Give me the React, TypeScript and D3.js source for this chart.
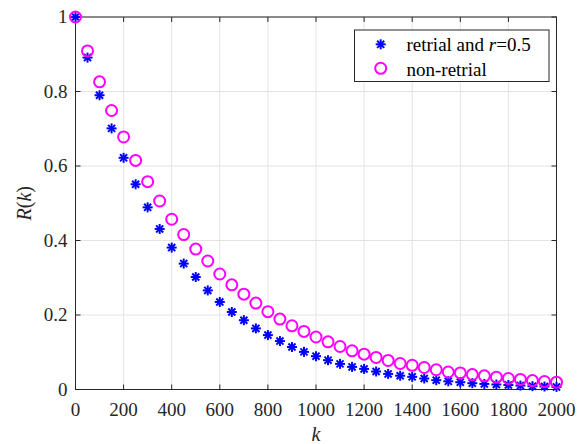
import React from "react";
import * as d3 from "d3";

const kValues: number[] = d3.range(0, 2001, 50);

const retrial: number[] = [
  1.0, 0.891, 0.79, 0.701, 0.622, 0.551, 0.489, 0.431, 0.381, 0.338,
  0.302, 0.266, 0.235, 0.208, 0.186, 0.164, 0.146, 0.13, 0.114, 0.101,
  0.0894, 0.0787, 0.0688, 0.0607, 0.0553, 0.0483, 0.0419, 0.037, 0.034, 0.0295,
  0.025, 0.022, 0.0196, 0.017, 0.015, 0.0135, 0.012, 0.0105, 0.009, 0.008, 0.007,
];

const nonRetrial: number[] = [
  1.0, 0.909, 0.826, 0.749, 0.678, 0.615, 0.558, 0.506, 0.457, 0.416,
  0.377, 0.345, 0.31, 0.281, 0.256, 0.232, 0.209, 0.189, 0.171, 0.156,
  0.141, 0.128, 0.1155, 0.1037, 0.0948, 0.086, 0.078, 0.0698, 0.065, 0.059,
  0.053, 0.047, 0.0446, 0.04, 0.0366, 0.033, 0.0295, 0.027, 0.024, 0.0215, 0.0196,
];

const xTicks: number[] = d3.range(0, 2001, 200);
const yTicks: number[] = [0, 0.2, 0.4, 0.6, 0.8, 1];
const legendLabels: string[] = ["retrial and ", "non-retrial"];

const W = 582;
const H = 444;
const L = 75.5;
const R = 556.5;
const T = 17;
const B = 389.5;
const FONT = '"Times New Roman", Times, "Liberation Serif", "DejaVu Serif", "Noto Serif", serif';
const AX = "#262626";

function Star({ cx, cy, s }: { cx: number; cy: number; s: number }) {
  const d = s * 0.7071;
  return (
    <g stroke="#0000ff" strokeWidth={2} strokeLinecap="butt">
      <line x1={cx - s} y1={cy} x2={cx + s} y2={cy} />
      <line x1={cx} y1={cy - s} x2={cx} y2={cy + s} />
      <line x1={cx - d} y1={cy - d} x2={cx + d} y2={cy + d} />
      <line x1={cx - d} y1={cy + d} x2={cx + d} y2={cy - d} />
    </g>
  );
}

export default function App() {
  const x = d3.scaleLinear().domain([0, 2000]).range([L, R]);
  const y = d3.scaleLinear().domain([0, 1]).range([B, T]);
  const tick = 5;
  const fs = { fontFamily: FONT };
  return (
    <svg width={W} height={H} style={{ position: "absolute", left: 0, top: 0, background: "#fff" }}>
      <rect x={0} y={0} width={W} height={H} fill="#fff" />
      <g stroke="#e3e3e3" strokeWidth={1}>
        {xTicks.map((t) => (
          <line key={"gx" + t} x1={x(t)} x2={x(t)} y1={T} y2={B} />
        ))}
        {yTicks.map((t) => (
          <line key={"gy" + t} x1={L} x2={R} y1={y(t)} y2={y(t)} />
        ))}
      </g>
      <g stroke={AX} strokeWidth={1}>
        {xTicks.map((t) => (
          <g key={"tx" + t}>
            <line x1={x(t)} x2={x(t)} y1={B} y2={B - tick} />
            <line x1={x(t)} x2={x(t)} y1={T} y2={T + tick} />
          </g>
        ))}
        {yTicks.map((t) => (
          <g key={"ty" + t}>
            <line x1={L} x2={L + tick} y1={y(t)} y2={y(t)} />
            <line x1={R} x2={R - tick} y1={y(t)} y2={y(t)} />
          </g>
        ))}
      </g>
      <rect x={L} y={T} width={R - L} height={B - T} fill="none" stroke={AX} strokeWidth={1} />
      <g style={fs} fontSize={19} fill={AX}>
        {xTicks.map((t) => (
          <text key={"lx" + t} x={x(t)} y={B + 26} textAnchor="middle">
            {t}
          </text>
        ))}
        {yTicks.map((t) => (
          <text key={"ly" + t} x={L - 8} y={y(t) + 6} textAnchor="end">
            {t}
          </text>
        ))}
      </g>
      <text x={(L + R) / 2} y={441} textAnchor="middle" style={fs} fontSize={20} fontStyle="italic" fill={AX}>
        k
      </text>
      <text
        transform={`translate(31,${(T + B) / 2}) rotate(-90)`}
        textAnchor="middle"
        style={fs}
        fontSize={20}
        fill={AX}
      >
        <tspan fontStyle="italic">R</tspan>(<tspan fontStyle="italic">k</tspan>)
      </text>
      <g>
        {kValues.map((k, i) => (
          <Star key={"s" + k} cx={x(k)} cy={y(retrial[i])} s={5} />
        ))}
      </g>
      <g fill="none" stroke="#ff00ff" strokeWidth={2}>
        {kValues.map((k, i) => (
          <circle key={"c" + k} cx={x(k)} cy={y(nonRetrial[i])} r={5.5} />
        ))}
      </g>
      <rect x={354.5} y={30} width={194.5} height={51.5} fill="#fff" stroke={AX} strokeWidth={1} />
      <Star cx={380.7} cy={44.3} s={5} />
      <circle cx={380.7} cy={68.3} r={5.5} fill="none" stroke="#ff00ff" strokeWidth={2} />
      <g style={fs} fontSize={19} fill="#000">
        <text x={406.5} y={51}>
          {legendLabels[0]}
          <tspan fontStyle="italic">r</tspan>=0.5
        </text>
        <text x={406.5} y={75.5}>
          {legendLabels[1]}
        </text>
      </g>
    </svg>
  );
}
